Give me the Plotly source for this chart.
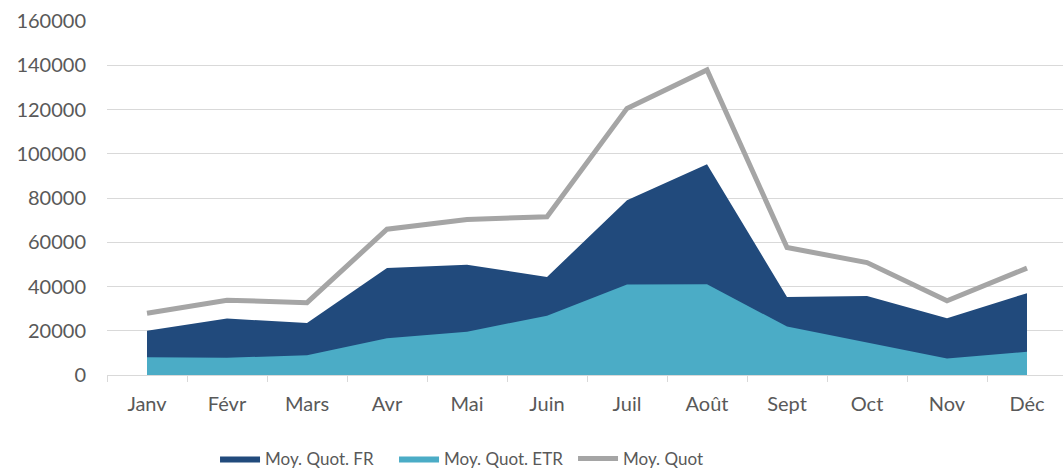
import plotly.graph_objects as go

months = ["Janv", "Févr", "Mars", "Avr", "Mai", "Juin", "Juil", "Août", "Sept", "Oct", "Nov", "Déc"]
moy_fr = [20000, 25500, 23500, 48400, 49800, 44300, 79000, 95300, 35300, 35700, 25700, 37000]
moy_etr = [8000, 7800, 8900, 16600, 19600, 26800, 40900, 41000, 21900, 14600, 7500, 10500]
moy_quot = [27900, 33800, 32700, 65900, 70300, 71500, 120500, 137900, 57600, 50800, 33500, 48300]

FONT = "Lato"
TXT = "#595959"
GRID = "#d9d9d9"

fig = go.Figure()
fig.add_trace(go.Scatter(x=months, y=moy_fr, name="Moy. Quot. FR", mode="lines",
                         fill="tozeroy", fillcolor="#214A7C", line=dict(width=0, color="#214A7C")))
fig.add_trace(go.Scatter(x=months, y=moy_etr, name="Moy. Quot. ETR", mode="lines",
                         fill="tozeroy", fillcolor="#4BACC6", line=dict(width=0, color="#4BACC6")))
fig.add_trace(go.Scatter(x=months, y=moy_quot, name="Moy. Quot", mode="lines",
                         line=dict(width=5, color="#A5A5A5")))

fig.update_layout(
    width=1063, height=471,
    margin=dict(l=107, r=0, t=21, b=96, autoexpand=False),
    plot_bgcolor="white", paper_bgcolor="white",
    font=dict(family=FONT, size=20, color=TXT),
    showlegend=True,
    legend=dict(orientation="h", x=0.113, xanchor="left", y=-0.237, yanchor="middle",
                font=dict(size=17, color=TXT), traceorder="normal", itemwidth=40,
                entrywidth=124, entrywidthmode="pixels"),
)
fig.update_xaxes(type="category", range=[-0.5, 11.45], showgrid=False, automargin=False,
                 showline=True, linecolor=GRID, linewidth=1,
                 ticks="outside", tickson="boundaries", ticklen=6, tickcolor=GRID,
                 ticklabelstandoff=11,
                 tickfont=dict(size=20, color=TXT))
fig.update_yaxes(range=[0, 160000], dtick=20000, showgrid=True, gridcolor=GRID, gridwidth=1,
                 zeroline=False, showline=False, ticks="", tickformat="d", automargin=False,
                 ticklabelstandoff=20, tickfont=dict(size=20, color=TXT))

fig.write_html("out.html", config={"displayModeBar": False},
               post_script="document.body.style.margin='0';document.body.style.overflow='hidden';")
